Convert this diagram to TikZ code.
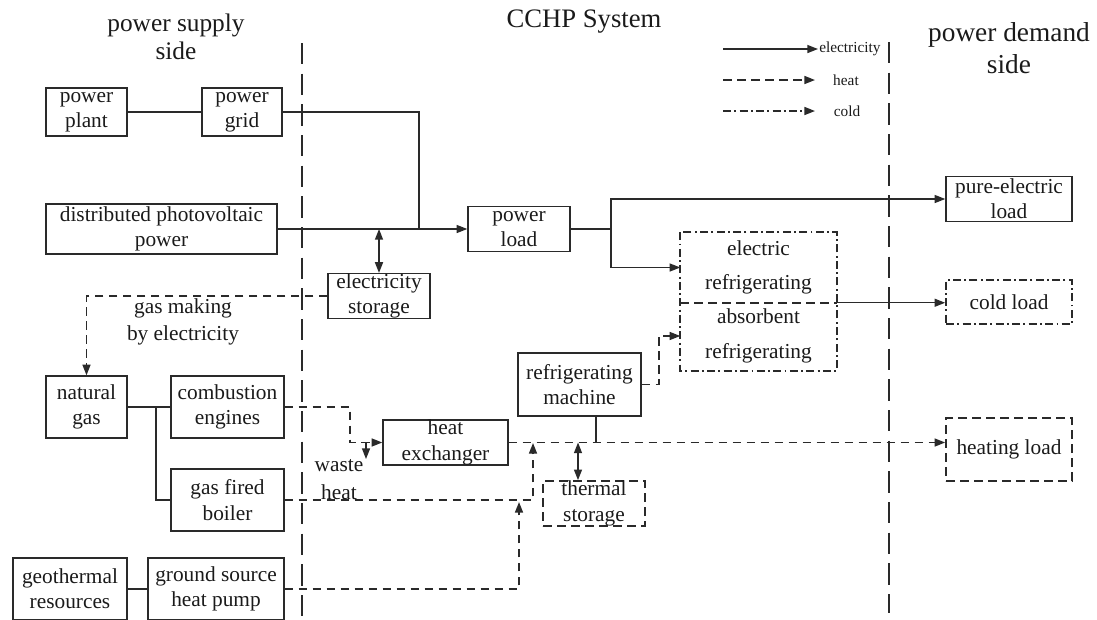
\documentclass[tikz,border=0pt]{standalone}
\usepackage{fontspec}
\setmainfont{Liberation Serif}
\usetikzlibrary{arrows.meta}
\definecolor{lc}{HTML}{2A2A2A}
\definecolor{tc}{HTML}{1A1A1A}
\newcommand\bxfont{\fontsize{16}{19}\selectfont}
\newcommand\rfont{\fontsize{16}{26}\selectfont}
\newcommand\ttlfont{\fontsize{20}{22}\selectfont}
\newcommand\lgfont{\fontsize{11.5}{13}\selectfont}
\tikzset{
  bx/.style 2 args={draw=lc, line width=1.1pt, minimum width=#1*0.75pt,
    minimum height=#2*0.75pt, inner sep=0pt, align=center, font=\bxfont, text=tc},
  tx/.style={inner sep=0pt, align=center, text=tc},
  elec/.style={draw=lc, line width=1.1pt},
  heat/.style={draw=lc, line width=1.2pt, dash pattern=on 6.5pt off 4pt},
  cold/.style={draw=lc, line width=1.2pt, dash pattern=on 6pt off 2.5pt on 1.4pt off 2.5pt},
  divider/.style={draw=lc, line width=1.1pt, dash pattern=on 16pt off 7pt},
  tip/.style={-{Triangle[length=8pt,width=6pt]}},
  dtip/.style={{Triangle[length=8pt,width=6pt]}-{Triangle[length=8pt,width=6pt]}},
}
\begin{document}
\begin{tikzpicture}[x=0.75pt,y=-0.75pt]
\useasboundingbox (0,0) rectangle (1097,619);

% titles
\node[tx, font=\fontsize{19}{21}\selectfont] (tsup) at (176,37) {power supply\\side};
\node[tx, font=\ttlfont] (tcchp) at (584,22) {CCHP System};
\node[tx, font=\fontsize{20.5}{23.5}\selectfont] (tdem) at (1009,48) {power demand\\side};

% dividers
\coordinate (d1a) at (302,43); \coordinate (d1b) at (302,621);
\coordinate (d2a) at (889,42); \coordinate (d2b) at (889,613);
\draw[divider] (d1a) -- (d1b);
\draw[divider] (d2a) -- (d2b);

% legend
\coordinate (la) at (723,49); \coordinate (lb) at (818,49);
\coordinate (lc1) at (723,80); \coordinate (ld) at (815,80);
\coordinate (le) at (723,111); \coordinate (lf) at (815,111);
\draw[elec,tip] (la) -- (lb);
\draw[heat,tip] (lc1) -- (ld);
\draw[cold,tip] (le) -- (lf);
\node[tx, font=\lgfont, anchor=west] (lel) at (819,49) {electricity};
\node[tx, font=\lgfont] (lhe) at (846,80) {heat};
\node[tx, font=\lgfont] (lco) at (847,111) {cold};

% boxes
\node[bx={81}{48}] (plant) at (86.5,112) {power\\plant};
\node[bx={80}{48}] (grid) at (242,112) {power\\grid};
\node[bx={231}{50}] (pv) at (161.5,229) {distributed photovoltaic\\power};
\node[bx={102}{45}] (pload) at (519,229) {power\\load};
\node[bx={102}{44}] (estor) at (379,296) {electricity\\storage};
\node[bx={126}{45}] (pel) at (1009,199) {pure-electric\\load};
\node[bx={126}{44}, cold] (coldl) at (1009,302) {cold load};
\node[bx={126}{63}, heat] (heatl) at (1009,449.5) {heating load};
\node[bx={155}{69}, draw=none, font=\rfont] (elref) at (758.5,267.5) {electric\\refrigerating};
\node[bx={155}{68}, draw=none, font=\rfont] (abref) at (758.5,336) {absorbent\\refrigerating};
\draw[cold] (elref.north west) rectangle (abref.south east);
\draw[heat] (elref.south west) -- (elref.south east);
\node[bx={81}{62}] (ng) at (86.5,407) {natural\\gas};
\node[bx={113}{62}] (ce) at (227.5,407) {combustion\\engines};
\node[bx={113}{62}] (boiler) at (227.5,500) {gas fired\\boiler};
\node[bx={114}{62}] (geo) at (70,589) {geothermal\\resources};
\node[bx={136}{62}] (gshp) at (216,589) {ground source\\heat pump};
\node[bx={125}{43}] (hx) at (445.5,442.5) {heat\\exchanger};
\node[bx={123}{63}] (rm) at (579.5,384.5) {refrigerating\\machine};
\node[bx={102}{45}, heat] (ts) at (594,503.5) {thermal\\storage};

% labels
\node[tx, font=\fontsize{16}{20}\selectfont] (gm) at (183,322) {gas making\\by electricity};
\node[tx, font=\fontsize{16}{21}\selectfont] (wh) at (339,480) {waste\\heat};

% electricity connectors
\draw[elec] (plant.east) -- (grid.west);
\coordinate (j1) at (419,229);
\draw[elec] (grid.east) -| (j1);
\draw[elec,tip] (pv.east) -- (pload.west);
\coordinate (j2) at (estor.north |- pv.east);
\draw[elec,dtip] (j2) -- (estor.north);
\coordinate (j3) at (611,229);
\draw[elec] (pload.east) -- (j3);
\draw[elec,tip] (j3) |- (pel.west);
\draw[elec,tip] (j3) |- (elref.west);
\draw[elec,tip] (elref.south east) -- (elref.south east -| coldl.west);

% gas
\draw[heat,tip] (estor.west) -| (ng.north);
\draw[elec] (ng.east) -- (ce.west);
\coordinate (j4) at (156,407);
\draw[elec] (j4) |- (boiler.west);
\draw[elec] (geo.east) -- (gshp.west);

% heat connectors
\coordinate (c1) at (350,442.5);
\draw[heat,tip] (ce.east) -| (c1) -- (hx.west);
\coordinate (c2) at (366,442.5);
\coordinate (c3) at (366,459);
\draw[elec,tip] (c2) -- (c3);
\coordinate (c4) at (533,443);
\draw[heat,tip] (boiler.east) -| (c4);
\coordinate (c5) at (519,502);
\draw[heat,tip] (gshp.east) -| (c5);
\draw[heat,tip] (hx.east) -- (hx.east -| heatl.west);
\coordinate (c6) at (596,442.5);
\draw[elec] (rm.south -| c6) -- (c6);
\coordinate (c7) at (659,384.5);
\draw[heat,tip] (rm.east) -- (c7) |- (abref.west);
\coordinate (c8) at (578,442.5);
\draw[elec,dtip] (c8) -- (c8 |- ts.north);
\end{tikzpicture}
\end{document}
